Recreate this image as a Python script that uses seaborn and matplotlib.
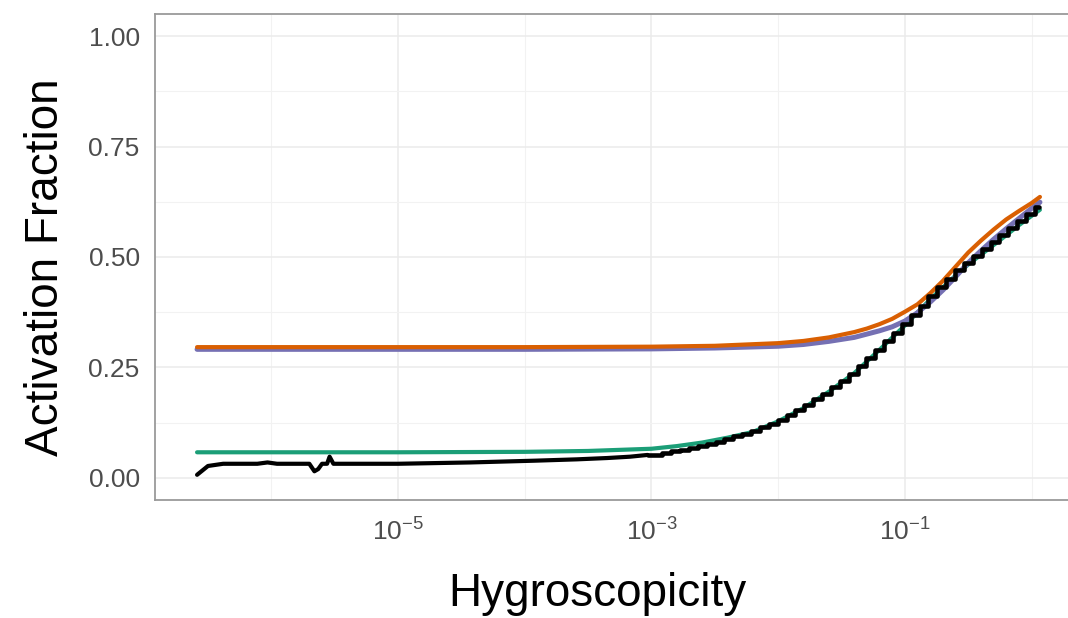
import numpy as np
import pandas as pd
import matplotlib
matplotlib.use("Agg")
import matplotlib.pyplot as plt
import matplotlib.ticker as mticker
import seaborn as sns

# ---------------- data (log10 of hygroscopicity, activation fraction) ----------------
orange_exp = [-6.586, -5.0, -4.0, -3.0, -2.5, -2.0, -1.8, -1.6, -1.4, -1.3, -1.2, -1.1, -1.0,
              -0.9, -0.8, -0.7, -0.6, -0.5, -0.4, -0.3, -0.2, -0.1, 0.0, 0.066]
orange_val = [0.296, 0.296, 0.296, 0.297, 0.299, 0.305, 0.310, 0.318, 0.330, 0.338, 0.348,
              0.360, 0.376, 0.393, 0.418, 0.446, 0.478, 0.510, 0.537, 0.562, 0.585, 0.604,
              0.622, 0.636]

purple_exp = [-6.586, -5.0, -4.0, -3.0, -2.5, -2.0, -1.8, -1.6, -1.4, -1.2, -1.1, -1.0,
              -0.9, -0.8, -0.7, -0.6, -0.5, -0.4, -0.3, -0.2, -0.1, 0.0, 0.066]
purple_val = [0.291, 0.291, 0.291, 0.292, 0.294, 0.298, 0.302, 0.309, 0.318, 0.333, 0.342,
              0.355, 0.374, 0.398, 0.425, 0.455, 0.487, 0.514, 0.540, 0.564, 0.587, 0.610,
              0.624]

green_exp = [-6.586, -5.0, -4.0, -3.5, -3.0, -2.8, -2.6, -2.4, -2.2, -2.0, -1.8, -1.6, -1.4,
             -1.2, -1.0, -0.8, -0.6, -0.5, -0.4, -0.25, -0.1, 0.066]
green_val = [0.058, 0.058, 0.059, 0.061, 0.066, 0.072, 0.080, 0.091, 0.104, 0.128, 0.158,
             0.195, 0.237, 0.290, 0.345, 0.404, 0.458, 0.483, 0.505, 0.538, 0.572, 0.607]

# observed (black) - low, noisy part
obs_low_exp = [-6.586, -6.50, -6.38, -6.11, -6.03, -5.955, -5.70, -5.66, -5.63, -5.60, -5.56,
               -5.54, -5.51, -5.0, -4.43, -3.92, -3.59, -3.35, -3.17, -3.03]
obs_low_val = [0.007, 0.027, 0.032, 0.032, 0.035, 0.032, 0.032, 0.015, 0.020, 0.032, 0.032,
               0.048, 0.032, 0.032, 0.035, 0.039, 0.042, 0.045, 0.048, 0.052]

# observed (black) - stepped rising part
obs_step_exp = [-2.95, -2.88, -2.81, -2.74, -2.67, -2.60, -2.53, -2.46, -2.39, -2.32, -2.25,
                -2.18, -2.11, -2.04, -1.97, -1.90, -1.83, -1.76, -1.69, -1.62, -1.55, -1.48,
                -1.41, -1.34, -1.27, -1.20, -1.13, -1.06, -0.99, -0.92, -0.85, -0.78, -0.71,
                -0.64, -0.57, -0.50, -0.43, -0.36, -0.29, -0.22, -0.15, -0.08, -0.01, 0.06]
obs_step_val = [0.052, 0.056, 0.060, 0.063, 0.067, 0.072, 0.077, 0.082, 0.088, 0.094, 0.100,
                0.107, 0.115, 0.123, 0.132, 0.143, 0.153, 0.165, 0.178, 0.191, 0.205, 0.220,
                0.235, 0.253, 0.271, 0.290, 0.309, 0.328, 0.348, 0.369, 0.390, 0.411, 0.431,
                0.451, 0.470, 0.487, 0.503, 0.519, 0.535, 0.550, 0.566, 0.582, 0.598, 0.614]

y_ticks = [0.0, 0.25, 0.5, 0.75, 1.0]
y_ticklabels = ["0.00", "0.25", "0.50", "0.75", "1.00"]
x_tick_exps = [-5, -3, -1]

# ---------------- style ----------------
sns.set_theme(style="white")
plt.rcParams["font.family"] = ["Liberation Sans", "DejaVu Sans"]
plt.rcParams["mathtext.fontset"] = "custom"
plt.rcParams["mathtext.rm"] = "Liberation Sans"
plt.rcParams["mathtext.it"] = "Liberation Sans:italic"

W, H = 1068, 618
fig = plt.figure(figsize=(W / 100, H / 100), dpi=100)
left_px, right_px, top_px, bot_px = 155, 1082, 14, 500
ax = fig.add_axes([left_px / W, 1 - bot_px / H, (right_px - left_px) / W, (bot_px - top_px) / H])


def frame(exps, vals):
    return pd.DataFrame({"x": [10.0 ** e for e in exps], "y": vals})


sns.lineplot(data=frame(green_exp, green_val), x="x", y="y", color="#1B9E77", lw=3.0,
             estimator=None, ax=ax, zorder=3)
sns.lineplot(data=frame(purple_exp, purple_val), x="x", y="y", color="#7570B3", lw=3.6,
             estimator=None, ax=ax, zorder=4)
sns.lineplot(data=frame(orange_exp, orange_val), x="x", y="y", color="#D95F02", lw=3.0,
             estimator=None, ax=ax, zorder=5)
sns.lineplot(data=frame(obs_low_exp, obs_low_val), x="x", y="y", color="black", lw=3.0,
             estimator=None, ax=ax, zorder=6)
sns.lineplot(data=frame(obs_low_exp[-1:] + obs_step_exp, obs_low_val[-1:] + obs_step_val),
             x="x", y="y", color="black", lw=3.3, estimator=None, ax=ax, zorder=6,
             drawstyle="steps-mid")

ax.set_xscale("log")
ax.set_xlim(10 ** -6.918, 10 ** 0.398)
ax.set_ylim(-0.05, 1.05)

ax.set_xticks([10.0 ** e for e in x_tick_exps])
ax.set_xticklabels([r"$10^{%d}$" % e for e in x_tick_exps])
ax.set_xticks([10.0 ** e for e in [-6, -4, -2, 0]], minor=True)
ax.xaxis.set_minor_formatter(mticker.NullFormatter())
ax.set_yticks(y_ticks)
ax.set_yticklabels(y_ticklabels)
ax.set_yticks([0.125, 0.375, 0.625, 0.875], minor=True)
ax.yaxis.set_minor_formatter(mticker.NullFormatter())

ax.grid(True, which="major", color="#EBEBEB", lw=1.1, zorder=0)
ax.grid(True, which="minor", color="#F2F2F2", lw=0.8, zorder=0)
ax.set_axisbelow(True)

for s in ax.spines.values():
    s.set_color("#9A9A9A")
    s.set_linewidth(1.3)

ax.tick_params(axis="both", which="major", length=7, width=1.0, color="#333333",
               labelcolor="#4D4D4D", labelsize=19, pad=4)
ax.tick_params(axis="x", which="major", pad=6)
ax.tick_params(axis="both", which="minor", length=0)

ax.set_xlabel("")
ax.set_ylabel("")
fig.text(597 / W, 1 - 606 / H, "Hygroscopicity", ha="center", va="baseline",
         fontsize=33, color="black")
fig.text(46 / W, 1 - 267 / H, "Activation Fraction", ha="center", va="center",
         rotation=90, fontsize=33, color="black")

fig.savefig("out.png", dpi=100)
